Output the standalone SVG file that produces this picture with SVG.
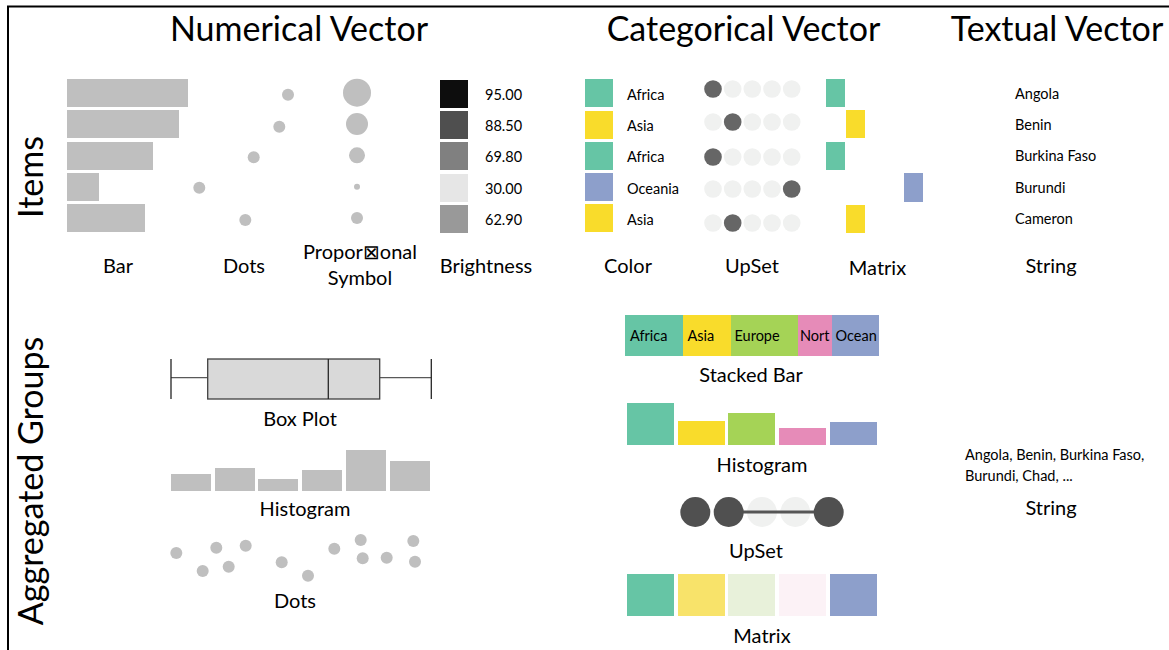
<svg xmlns="http://www.w3.org/2000/svg" width="1169" height="650" viewBox="0 0 1169 650">
<style>
text{font-family:Lato,"Liberation Sans",sans-serif;fill:#000}
.title{font-size:34px;text-anchor:middle}
.lab{font-size:20px;text-anchor:middle}
.sm{font-size:14.5px}
.gray{fill:#bfbfbf}
.ud{fill:#666666}
.ul{fill:#f0f1f0}
.ud2{fill:#505050}
.teal{fill:#66c5a5}
.yel{fill:#f9dc2b}
.grn{fill:#a5d356}
.pnk{fill:#e68bb8}
.pur{fill:#8d9fcb}
</style>
<rect x="0" y="0" width="1169" height="650" fill="#fff"/>
<path d="M8,650 V6.5 H1169" fill="none" stroke="#000" stroke-width="2"/>

<g id="titles">
<text class="title" x="299" y="41">Numerical Vector</text>
<text class="title" x="743.5" y="41">Categorical Vector</text>
<text class="title" x="1057" y="41">Textual Vector</text>
<text class="title" transform="translate(43,177) rotate(-90)">Items</text>
<text class="title" transform="translate(43,481) rotate(-90)">Aggregated Groups</text>
</g>

<g id="item-bar">
<rect class="gray" x="67" y="79" width="121" height="28"/>
<rect class="gray" x="67" y="110" width="112" height="28"/>
<rect class="gray" x="67" y="142" width="86" height="28"/>
<rect class="gray" x="67" y="173" width="32" height="28"/>
<rect class="gray" x="67" y="204" width="78" height="28"/>
<text class="lab" x="118" y="273">Bar</text>
</g>

<g id="item-dots">
<circle class="gray" cx="288" cy="94.7" r="6"/>
<circle class="gray" cx="279.3" cy="126.7" r="6"/>
<circle class="gray" cx="253.7" cy="157.3" r="6"/>
<circle class="gray" cx="199.3" cy="187.7" r="6"/>
<circle class="gray" cx="245.3" cy="220" r="6"/>
<text class="lab" x="244" y="273">Dots</text>
</g>

<g id="item-proportional">
<circle class="gray" cx="357" cy="92.7" r="14"/>
<circle class="gray" cx="357" cy="124" r="11"/>
<circle class="gray" cx="357" cy="155.3" r="8"/>
<circle class="gray" cx="357" cy="186.7" r="3"/>
<circle class="gray" cx="357" cy="218" r="6"/>
<text class="lab" x="360" y="259">Propor⊠onal</text>
<text class="lab" x="360" y="285">Symbol</text>
</g>

<g id="item-brightness">
<rect x="440" y="80" width="28" height="28" fill="#0d0d0d"/>
<rect x="440" y="111" width="28" height="28" fill="#4f4f4f"/>
<rect x="440" y="142" width="28" height="28" fill="#808080"/>
<rect x="440" y="174" width="28" height="28" fill="#e6e6e6"/>
<rect x="440" y="205" width="28" height="28" fill="#999999"/>
<text class="sm" x="485" y="100">95.00</text>
<text class="sm" x="485" y="131">88.50</text>
<text class="sm" x="485" y="162">69.80</text>
<text class="sm" x="485" y="194">30.00</text>
<text class="sm" x="485" y="225">62.90</text>
<text class="lab" x="486" y="273">Brightness</text>
</g>

<g id="item-color">
<rect class="teal" x="585" y="79" width="28" height="28"/>
<rect class="yel" x="585" y="111" width="28" height="28"/>
<rect class="teal" x="585" y="142" width="28" height="28"/>
<rect class="pur" x="585" y="173" width="28" height="28"/>
<rect class="yel" x="585" y="204" width="28" height="28"/>
<text class="sm" x="627" y="100">Africa</text>
<text class="sm" x="627" y="131">Asia</text>
<text class="sm" x="627" y="162">Africa</text>
<text class="sm" x="627" y="194">Oceania</text>
<text class="sm" x="627" y="225">Asia</text>
<text class="lab" x="628" y="273">Color</text>
</g>

<g id="item-upset">
<g class="ul">
<circle cx="732.7" cy="89" r="8.8"/><circle cx="752.3" cy="89" r="8.8"/><circle cx="772" cy="89" r="8.8"/><circle cx="791.7" cy="89" r="8.8"/>
<circle cx="713" cy="122" r="8.8"/><circle cx="752.3" cy="122" r="8.8"/><circle cx="772" cy="122" r="8.8"/><circle cx="791.7" cy="122" r="8.8"/>
<circle cx="732.7" cy="157" r="8.8"/><circle cx="752.3" cy="157" r="8.8"/><circle cx="772" cy="157" r="8.8"/><circle cx="791.7" cy="157" r="8.8"/>
<circle cx="713" cy="189" r="8.8"/><circle cx="732.7" cy="189" r="8.8"/><circle cx="752.3" cy="189" r="8.8"/><circle cx="772" cy="189" r="8.8"/>
<circle cx="713" cy="223" r="8.8"/><circle cx="752.3" cy="223" r="8.8"/><circle cx="772" cy="223" r="8.8"/><circle cx="791.7" cy="223" r="8.8"/>
</g>
<g class="ud">
<circle cx="713" cy="89" r="8.8"/>
<circle cx="732.7" cy="122" r="8.8"/>
<circle cx="713" cy="157" r="8.8"/>
<circle cx="791.7" cy="189" r="8.8"/>
<circle cx="732.7" cy="223" r="8.8"/>
</g>
<text class="lab" x="752" y="273">UpSet</text>
</g>

<g id="item-matrix">
<rect class="teal" x="826" y="79" width="19" height="28"/>
<rect class="yel" x="846" y="110" width="19" height="28"/>
<rect class="teal" x="826" y="142" width="19" height="28"/>
<rect class="pur" x="904" y="173" width="19" height="29"/>
<rect class="yel" x="846" y="205" width="19" height="28"/>
<text class="lab" x="877.5" y="275">Matrix</text>
</g>

<g id="item-string">
<text class="sm" x="1015" y="99">Angola</text>
<text class="sm" x="1015" y="130">Benin</text>
<text class="sm" x="1015" y="161">Burkina Faso</text>
<text class="sm" x="1015" y="193">Burundi</text>
<text class="sm" x="1015" y="224">Cameron</text>
<text class="lab" x="1051" y="273">String</text>
</g>

<g id="agg-boxplot">
<path d="M171,377.7 H207.7 M379.7,377.7 H431.3" stroke="#595959" stroke-width="1.3" fill="none"/>
<path d="M171,359 V399 M431.3,359 V399" stroke="#262626" stroke-width="1.3" fill="none"/>
<rect x="207.7" y="359" width="172" height="40" fill="#d9d9d9" stroke="#404040" stroke-width="1.3"/>
<path d="M328.3,359 V399" stroke="#262626" stroke-width="1.3"/>
<text class="lab" x="300" y="426">Box Plot</text>
</g>

<g id="agg-histogram-num">
<rect class="gray" x="171" y="474" width="40" height="17"/>
<rect class="gray" x="215" y="468" width="40" height="23"/>
<rect class="gray" x="258" y="479" width="40" height="12"/>
<rect class="gray" x="302" y="470" width="40" height="21"/>
<rect class="gray" x="346" y="450" width="40" height="41"/>
<rect class="gray" x="390" y="461" width="40" height="30"/>
<text class="lab" x="305" y="516">Histogram</text>
</g>

<g id="agg-dots">
<circle class="gray" cx="176.3" cy="553" r="6"/>
<circle class="gray" cx="202.7" cy="571" r="6"/>
<circle class="gray" cx="216.3" cy="547.7" r="6"/>
<circle class="gray" cx="228.7" cy="566.7" r="6"/>
<circle class="gray" cx="245.7" cy="545.7" r="6"/>
<circle class="gray" cx="281.7" cy="562.3" r="6"/>
<circle class="gray" cx="308" cy="575.7" r="6"/>
<circle class="gray" cx="334.3" cy="548.7" r="6"/>
<circle class="gray" cx="360.7" cy="540" r="6"/>
<circle class="gray" cx="362.7" cy="558.3" r="6"/>
<circle class="gray" cx="386.7" cy="557.7" r="6"/>
<circle class="gray" cx="413.3" cy="541" r="6"/>
<circle class="gray" cx="415" cy="561.7" r="6"/>
<text class="lab" x="295" y="608">Dots</text>
</g>

<g id="agg-stacked-bar">
<rect class="teal" x="625" y="315" width="58" height="41"/>
<rect class="yel" x="683" y="315" width="48" height="41"/>
<rect class="grn" x="731" y="315" width="67" height="41"/>
<rect class="pnk" x="798" y="315" width="34" height="41"/>
<rect class="pur" x="832" y="315" width="47" height="41"/>
<text class="sm" x="630" y="341">Africa</text>
<text class="sm" x="687.5" y="341">Asia</text>
<text class="sm" x="734.5" y="341">Europe</text>
<text class="sm" x="800" y="341">Nort</text>
<text class="sm" x="835.5" y="341">Ocean</text>
<text class="lab" x="751" y="382">Stacked Bar</text>
</g>

<g id="agg-histogram-cat">
<rect class="teal" x="627" y="403" width="47" height="42"/>
<rect class="yel" x="678" y="421" width="47" height="24"/>
<rect class="grn" x="728" y="413" width="47" height="32"/>
<rect class="pnk" x="779" y="428" width="47" height="17"/>
<rect class="pur" x="830" y="422" width="47" height="23"/>
<text class="lab" x="762" y="472">Histogram</text>
</g>

<g id="agg-upset">
<circle class="ul" cx="762" cy="512" r="15"/>
<circle class="ul" cx="795.3" cy="512" r="15"/>
<path d="M728.7,512 H828.7" stroke="#555555" stroke-width="3"/>
<circle class="ud2" cx="695.3" cy="512" r="15"/>
<circle class="ud2" cx="728.7" cy="512" r="15"/>
<circle class="ud2" cx="828.7" cy="512" r="15"/>
<text class="lab" x="756" y="558">UpSet</text>
</g>

<g id="agg-matrix">
<rect x="627" y="574" width="47" height="42" fill="#66c5a5"/>
<rect x="678" y="574" width="47" height="42" fill="#f8e36a"/>
<rect x="728" y="574" width="47" height="42" fill="#e8f1da"/>
<rect x="779" y="574" width="47" height="42" fill="#fcf2f6"/>
<rect x="830" y="574" width="47" height="42" fill="#8d9fcb"/>
<text class="lab" x="762" y="643">Matrix</text>
</g>

<g id="agg-string">
<text class="sm" x="965" y="460">Angola, Benin, Burkina Faso,</text>
<text class="sm" x="965" y="481">Burundi, Chad, ...</text>
<text class="lab" x="1051" y="515">String</text>
</g>
</svg>
